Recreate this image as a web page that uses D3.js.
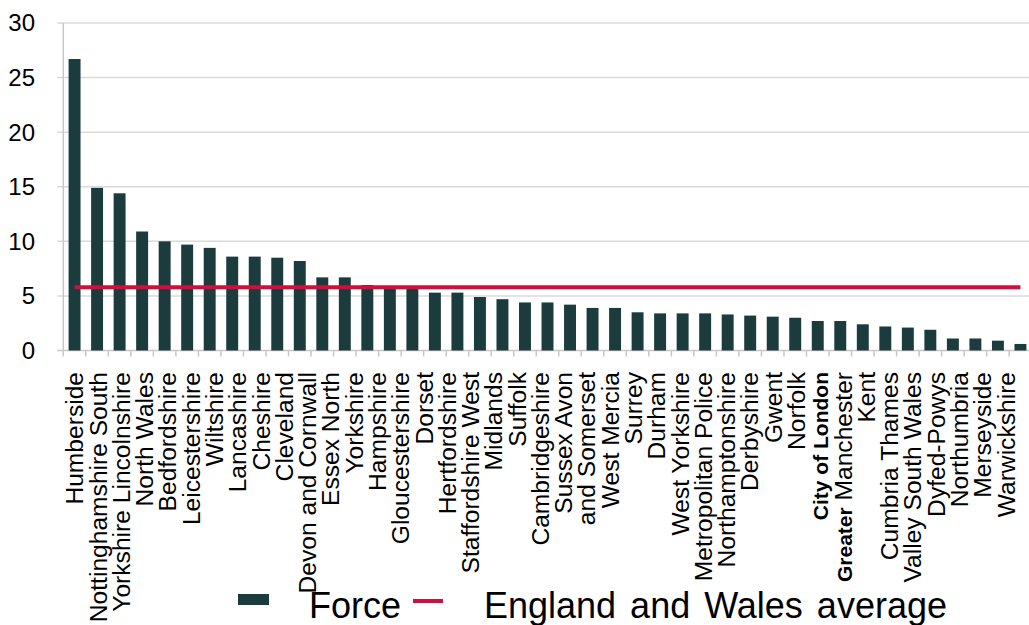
<!DOCTYPE html>
<html>
<head>
<meta charset="utf-8">
<script src="https://cdn.jsdelivr.net/npm/d3@7"></script>
<style>
  body { margin: 0; background: #fff; }
  text { font-family: "Liberation Sans", Arial, sans-serif; fill: #000; }
</style>
</head>
<body>
<div id="my_dataviz"></div>
<script>
var forces = ['Humberside','Nottinghamshire','South Yorkshire','Lincolnshire','North Wales','Bedfordshire',
    'Leicestershire','Wiltshire','Lancashire','Cheshire','Cleveland','Devon and Cornwall','Essex',
    'North Yorkshire','Hampshire','Gloucestershire','Dorset','Hertfordshire','Staffordshire','West Midlands',
    'Suffolk','Cambridgeshire','Sussex','Avon and Somerset','West Mercia','Surrey','Durham','West Yorkshire',
    'Metropolitan Police','Northamptonshire','Derbyshire','Gwent','Norfolk','City of London',
    'Greater Manchester','Kent','Cumbria','Thames Valley','South Wales','Dyfed-Powys','Northumbria',
    'Merseyside','Warwickshire'];
var forceValues = [26.7, 14.9, 14.4, 10.9, 10.0, 9.7, 9.4, 8.6, 8.6, 8.5, 8.2, 6.7, 6.7,
    6.0, 5.8, 5.7, 5.3, 5.3, 4.9, 4.7, 4.4, 4.4, 4.2, 3.9, 3.9, 3.5, 3.4, 3.4, 3.4, 3.3, 3.2,
    3.1, 3.0, 2.7, 2.7, 2.4, 2.2, 2.1, 1.9, 1.1, 1.1, 0.9, 0.6];
var averageValue = 5.8;
var yTicks = [0, 5, 10, 15, 20, 25, 30];
// the axis labels as they wrap in the source chart, one entry per printed line
var tickLabels = ['Humberside','Nottinghamshire South','Yorkshire Lincolnshire','North Wales','Bedfordshire',
    'Leicestershire','Wiltshire','Lancashire','Cheshire','Cleveland','Devon and Cornwall','Essex North',
    'Yorkshire','Hampshire','Gloucestershire','Dorset','Hertfordshire','Staffordshire West','Midlands',
    'Suffolk','Cambridgeshire','Sussex Avon','and Somerset','West Mercia','Surrey','Durham','West Yorkshire',
    'Metropolitan Police','Northamptonshire','Derbyshire','Gwent','Norfolk','City of London',
    'Greater Manchester','Kent','Cumbria Thames','Valley South Wales','Dyfed-Powys','Northumbria',
    'Merseyside','Warwickshire'];
var boldParts = ['City of London', 'Greater'];
var legendLabels = ['Force', 'England and Wales average'];

var width = 1029, height = 625;
var plotLeft = 63.3, plotRight = 1031.7, plotTop = 23, plotBottom = 350.5;
var barColor = '#1b3b3d', lineColor = '#d0103a';

var svg = d3.select('#my_dataviz')
    .append('svg')
    .attr('width', width)
    .attr('height', height);

var x = d3.scaleBand()
    .domain(forces)
    .range([plotLeft, plotRight])
    .paddingInner(0.47)
    .paddingOuter(0.235);

var y = d3.scaleLinear()
    .domain([0, 30])
    .range([plotBottom, plotTop]);

// gridlines
svg.selectAll('.grid')
    .data(yTicks)
    .enter()
    .append('line')
    .attr('x1', plotLeft - 6)
    .attr('x2', width)
    .attr('y1', function(d){ return y(d); })
    .attr('y2', function(d){ return y(d); })
    .style('stroke', function(d){ return d == 0 ? '#c8c8c8' : '#dadada'; })
    .style('stroke-width', 1.5);

// y axis line
svg.append('line')
    .attr('x1', plotLeft).attr('x2', plotLeft)
    .attr('y1', plotTop).attr('y2', plotBottom + 6)
    .style('stroke', '#c8c8c8')
    .style('stroke-width', 1.5);

// x ticks between bands
var step = x.step();
svg.selectAll('.xtick')
    .data(forces)
    .enter()
    .append('line')
    .attr('x1', function(d){ return x(d) - step * 0.235 + step; })
    .attr('x2', function(d){ return x(d) - step * 0.235 + step; })
    .attr('y1', plotBottom)
    .attr('y2', plotBottom + 6)
    .style('stroke', '#c8c8c8')
    .style('stroke-width', 1.5);

svg.selectAll('.ylab')
    .data(yTicks)
    .enter()
    .append('text')
    .attr('x', 35)
    .attr('y', function(d){ return y(d); })
    .attr('dy', '0.35em')
    .attr('text-anchor', 'end')
    .attr('font-size', '24px')
    .text(function(d){ return d; });

// bars
svg.selectAll('.bar')
    .data(forceValues)
    .enter()
    .append('rect')
    .attr('x', function(d, i){ return x(forces[i]); })
    .attr('y', function(d){ return y(d); })
    .attr('width', x.bandwidth())
    .attr('height', function(d){ return y(0) - y(d); })
    .style('fill', barColor);

// average line
svg.append('line')
    .attr('x1', x(forces[0]) + x.bandwidth() / 2)
    .attr('x2', x(forces[forces.length - 1]) + x.bandwidth() / 2)
    .attr('y1', y(averageValue))
    .attr('y2', y(averageValue))
    .style('stroke', lineColor)
    .style('stroke-width', 4);

// category labels
var xl = d3.scalePoint()
    .domain(d3.range(tickLabels.length))
    .range([74.6, 1006]);

var labels = svg.selectAll('.xlab')
    .data(tickLabels)
    .enter()
    .append('text')
    .attr('transform', function(d, i){ return 'translate(' + xl(i) + ',372) rotate(-90)'; })
    .attr('dy', '0.35em')
    .attr('text-anchor', 'end')
    .attr('font-size', '24.6px');

labels.each(function(d){
    var t = d3.select(this);
    var b = boldParts.find(function(p){ return d.indexOf(p) == 0; });
    if (b) {
        t.append('tspan').attr('font-weight', 'bold').attr('font-size', '21px').text(b);
        t.append('tspan').text(d.slice(b.length));
    } else {
        t.text(d);
    }
});

// legend
svg.append('rect')
    .attr('x', 238).attr('y', 594)
    .attr('width', 31).attr('height', 11)
    .style('fill', barColor);
svg.append('text')
    .attr('x', 309).attr('y', 618)
    .attr('font-size', '36px')
    .text(legendLabels[0]);
svg.append('line')
    .attr('x1', 413).attr('x2', 443)
    .attr('y1', 601).attr('y2', 601)
    .style('stroke', lineColor)
    .style('stroke-width', 4);
svg.append('text')
    .attr('x', 484).attr('y', 618)
    .attr('font-size', '36px')
    .attr('word-spacing', '4px')
    .text(legendLabels[1]);
</script>
</body>
</html>
